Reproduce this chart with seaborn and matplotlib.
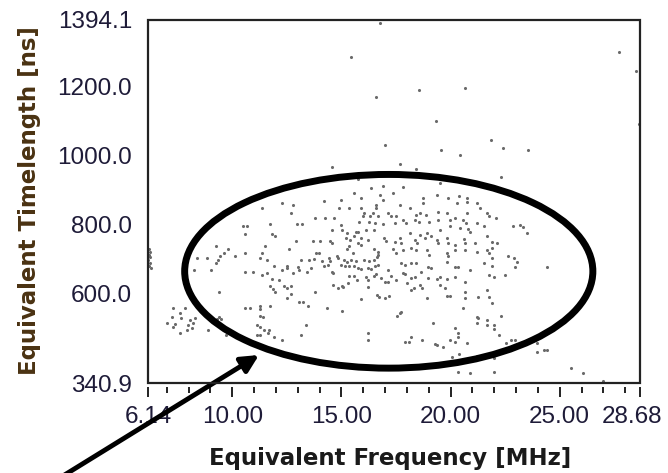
import pandas as pd
import seaborn as sns
import matplotlib.pyplot as plt
from matplotlib.patches import Ellipse, Rectangle
from matplotlib.transforms import ScaledTranslation

# ----------------------------
# AXES / TICKS
# ----------------------------
x_min, x_max = 6.14, 28.68
y_min, y_max = 340.9, 1394.1
x_major = [6.14, 10, 15, 20, 25, 28.68]
x_major_labels = ["6.14", "10.00", "15.00", "20.00", "25.00", "28.68"]
x_minor = list(range(7, 29))
y_ticks = [340.9, 600, 800, 1000, 1200, 1394.1]
y_tick_labels = ["340.9", "600.0", "800.0", "1000.0", "1200.0", "1394.1"]

# ----------------------------
# DATA (freq MHz, timelength ns)
# ----------------------------
edge_pts = [(6.20, 731), (6.18, 712), (6.25, 706), (6.16, 698), (6.22, 688),
            (6.19, 679), (6.28, 676), (6.24, 720)]

low_left_pts = [(7.27, 558), (7.84, 558), (7.61, 543), (7.22, 533), (7.65, 529),
                (8.07, 524), (8.30, 529), (7.02, 514), (7.38, 512), (7.99, 509),
                (8.22, 514), (7.30, 504), (7.61, 487), (7.91, 495), (8.17, 500),
                (9.37, 533), (9.30, 527), (9.48, 527), (9.30, 514), (8.91, 495),
                (9.53, 504), (9.73, 480)]

left_pts = [(8.37, 703), (8.83, 703), (8.27, 669), (9.03, 669), (9.26, 737), (9.42, 709),
            (9.60, 717), (9.79, 730), (9.33, 698), (9.26, 688), (10.14, 709), (10.60, 717),
            (9.37, 606), (10.57, 662), (10.95, 662), (11.37, 850), (10.49, 795), (10.68, 795),
            (10.60, 772), (11.71, 801), (11.83, 772), (11.94, 766), (12.26, 864), (12.80, 857),
            (12.71, 835), (11.48, 739), (11.37, 717), (11.26, 703), (11.57, 698), (11.37, 654),
            (11.60, 659), (11.91, 681), (12.29, 669), (12.49, 681), (12.49, 674), (12.60, 730),
            (12.90, 753), (12.95, 801), (13.21, 801), (11.83, 642), (12.14, 640), (11.75, 621),
            (11.88, 613), (11.95, 606), (12.37, 621), (12.49, 616), (12.67, 621), (12.49, 587),
            (12.71, 599), (12.78, 661), (13.06, 669), (13.03, 677), (13.14, 698), (13.41, 664),
            (13.52, 698), (13.63, 674), (13.70, 753), (13.79, 821), (14.03, 753), (14.21, 870),
            (14.49, 753), (14.56, 748), (14.56, 785), (14.26, 821), (14.67, 821), (13.83, 717),
            (13.98, 717), (13.75, 701), (14.09, 696), (14.21, 679), (14.37, 683), (14.56, 664),
            (14.63, 659), (14.44, 703), (14.49, 696), (14.79, 709), (14.86, 703), (13.79, 606),
            (14.60, 625), (14.83, 616), (15.03, 621), (14.36, 558), (15.03, 550), (13.06, 577),
            (13.24, 577), (13.47, 563), (10.57, 558), (10.80, 558), (11.26, 563), (11.26, 555),
            (11.72, 563), (11.29, 536), (11.42, 533), (11.14, 509), (11.29, 503), (11.45, 495),
            (11.14, 480), (11.29, 480), (11.68, 495), (11.63, 485), (11.91, 475), (12.26, 466),
            (13.37, 509), (13.14, 480), (16.21, 487), (16.24, 466), (15.90, 585), (16.64, 596),
            (16.71, 589), (17.00, 587), (17.20, 593), (17.56, 536)]

center_pts = [(15.78, 932), (16.36, 906), (16.90, 913), (17.36, 891), (15.56, 891), (15.90, 877),
              (16.79, 886), (16.90, 872), (14.98, 872), (14.90, 850), (15.33, 850), (15.90, 850),
              (16.59, 857), (16.59, 850), (16.05, 833), (15.98, 824), (16.33, 826), (16.44, 833),
              (16.67, 826), (17.13, 833), (17.28, 824), (17.51, 824), (15.82, 809), (16.28, 809),
              (16.54, 806), (16.90, 801), (17.44, 804), (14.98, 799), (15.02, 785), (15.25, 775),
              (15.67, 780), (15.78, 780), (16.13, 785), (16.48, 785), (15.21, 761), (15.41, 756),
              (15.59, 766), (15.90, 761), (16.21, 756), (16.97, 761), (17.05, 753), (17.44, 751),
              (15.75, 746), (15.90, 741), (15.33, 737), (15.25, 730), (15.52, 717), (16.51, 730),
              (16.67, 722), (17.36, 730), (17.51, 719), (15.10, 698), (15.25, 693), (15.44, 698),
              (15.67, 696), (16.05, 698), (16.28, 696), (16.51, 698), (16.67, 712), (16.64, 706),
              (14.98, 683), (15.16, 679), (15.36, 679), (15.59, 679), (15.75, 676), (15.90, 673),
              (16.21, 674), (16.36, 671), (16.56, 679), (16.67, 683), (17.13, 669), (15.36, 650),
              (15.59, 651), (15.71, 640), (16.13, 647), (16.24, 640), (16.48, 650), (16.59, 657),
              (16.82, 645), (17.00, 635), (17.13, 635), (17.28, 650), (17.51, 640), (16.24, 619),
              (15.29, 630), (15.06, 619)]

right_pts = [(17.83, 911), (19.52, 920), (18.75, 877), (18.75, 862), (19.36, 886), (19.90, 877),
             (20.41, 883), (20.75, 877), (20.75, 867), (20.29, 862), (21.21, 862), (21.36, 848),
             (17.68, 857), (18.14, 848), (18.44, 828), (18.60, 833), (18.87, 828), (19.44, 838),
             (19.82, 833), (20.21, 819), (20.75, 833), (21.67, 833), (21.75, 824), (22.10, 819),
             (17.80, 814), (17.95, 804), (18.37, 814), (18.57, 809), (19.00, 809), (19.44, 814),
             (19.98, 814), (20.59, 814), (20.72, 804), (21.21, 804), (21.52, 795), (20.90, 780),
             (20.82, 787), (20.44, 790), (19.98, 795), (19.52, 785), (18.94, 775), (19.09, 767),
             (18.60, 770), (18.14, 775), (17.68, 761), (17.75, 746), (18.37, 756), (18.47, 748),
             (18.83, 761), (19.36, 756), (19.44, 746), (19.82, 761), (19.90, 746), (20.21, 741),
             (20.62, 758), (20.67, 748), (21.13, 746), (21.67, 766), (21.90, 751), (22.13, 748),
             (22.87, 795), (23.20, 799), (23.33, 793), (23.51, 775), (17.83, 727), (18.21, 732),
             (18.44, 727), (18.90, 727), (19.03, 712), (19.82, 719), (19.90, 708), (20.21, 727),
             (20.67, 727), (21.21, 722), (21.67, 727), (21.75, 717), (21.90, 732), (22.62, 710),
             (22.93, 703), (23.05, 693), (17.75, 688), (17.91, 683), (18.21, 690), (18.41, 688),
             (18.98, 678), (19.09, 674), (19.86, 693), (20.21, 677), (20.36, 677), (20.87, 669),
             (21.52, 690), (21.90, 705), (21.90, 680), (22.97, 677), (24.43, 677), (17.80, 661),
             (17.91, 657), (18.21, 645), (18.37, 649), (18.64, 664), (18.98, 645), (19.36, 644),
             (19.52, 649), (19.86, 642), (20.21, 649), (20.67, 635), (21.75, 654), (21.98, 649),
             (22.51, 654), (18.00, 630), (18.21, 611), (18.32, 616), (18.60, 625), (18.67, 616),
             (18.90, 587), (19.52, 625), (19.75, 616), (19.82, 592), (19.98, 593), (20.67, 606),
             (20.67, 587), (21.28, 591), (21.67, 611), (21.75, 591), (21.90, 572), (20.56, 558),
             (17.68, 543), (17.75, 548), (19.21, 514), (21.21, 533), (21.28, 529), (21.21, 514),
             (21.67, 524), (21.67, 509), (21.98, 509), (22.01, 497), (22.32, 535), (20.21, 500),
             (20.32, 487), (20.36, 475), (20.21, 461), (19.98, 466), (20.75, 458), (22.21, 480),
             (18.21, 474), (17.91, 459), (18.11, 459), (18.67, 466), (19.29, 453), (19.36, 451),
             (19.67, 446), (20.06, 417), (20.41, 425), (21.21, 419), (22.01, 413), (22.56, 458),
             (22.78, 466), (22.97, 466), (23.97, 456), (23.97, 432), (24.28, 437), (24.43, 437),
             (20.32, 374), (20.90, 369), (21.98, 374), (25.51, 383), (26.08, 369), (26.97, 347)]

upper_pts = [(16.78, 1386), (15.45, 1288), (18.55, 1191), (16.57, 1170), (20.64, 1198),
             (19.32, 1100), (27.74, 1302), (28.50, 1247), (28.63, 1092), (17.00, 1031),
             (19.55, 1017), (20.44, 1003), (21.87, 1045), (22.41, 1024), (23.54, 1017),
             (17.67, 975), (18.44, 961), (22.31, 940), (14.59, 968)]

# highlighted region (ellipse)
ell_center = (17.17, 665)
ell_width, ell_height = 18.70, 562

df = pd.DataFrame(edge_pts + low_left_pts + left_pts + center_pts + right_pts + upper_pts,
                  columns=["freq", "time"])

# ----------------------------
# PLOT
# ----------------------------
sns.set_theme(style="white")
tick_font = "Liberation Sans"

W, H = 668, 473
fig = plt.figure(figsize=(W / 100, H / 100), dpi=100)
ax = fig.add_axes([148 / W, 1 - 383 / H, 492 / W, 363 / H])

sns.scatterplot(data=df, x="freq", y="time", ax=ax, s=5, color="#6a6a6a",
                linewidth=0, marker="o", zorder=3)

ax.set_xlim(x_min, x_max)
ax.set_ylim(y_min, y_max)
ax.set_xticks(x_major)
ax.set_xticklabels(x_major_labels)
ax.set_xticks(x_minor, minor=True)
ax.set_yticks(y_ticks)
ax.set_yticklabels(y_tick_labels)
ax.set_xlabel("")
ax.set_ylabel("")

for sp in ax.spines.values():
    sp.set_visible(False)
ax.spines["bottom"].set_position(("outward", 3))
ax.add_patch(Rectangle((0, 0), 1, 1, transform=ax.transAxes, fill=False,
                       lw=1.6, ec="#222222", clip_on=False, zorder=5))

tick_color = "#1e1b38"
ax.tick_params(axis="x", which="major", bottom=True, direction="out", length=7.5,
               width=1.4, color="#222222", pad=6, labelsize=17.5, labelcolor=tick_color)
ax.tick_params(axis="x", which="minor", bottom=True, direction="out", length=4.5,
               width=1.4, color="#222222")
ax.tick_params(axis="y", left=False, length=0, pad=11.5, labelsize=17.5, labelcolor=tick_color)
for lab in ax.get_xticklabels() + ax.get_yticklabels():
    lab.set_fontfamily(tick_font)

# last x label sits a little left of its tick in the reference
last = ax.get_xticklabels()[-1]
last.set_transform(last.get_transform() + ScaledTranslation(-8 / 100, 0, fig.dpi_scale_trans))

ax.add_patch(Ellipse(ell_center, ell_width, ell_height, fill=False, lw=5,
                     ec="black", zorder=6))

ax.annotate("", xy=(259 / W, 1 - 355 / H), xycoords="figure fraction",
            xytext=(58 / W, 1 - 479 / H), textcoords="figure fraction",
            arrowprops=dict(arrowstyle="-|>", lw=3.5, color="black", mutation_scale=26,
                            shrinkA=0, shrinkB=0),
            annotation_clip=False)

fig.text(390 / W, 1 - 458 / H, "Equivalent Frequency [MHz]", ha="center", va="center",
         fontsize=16.5, fontweight="bold", family="DejaVu Sans", color="#1a1a1a")
fig.text(30 / W, 1 - 201 / H, "Equivalent Timelength [ns]", ha="center", va="center",
         rotation=90, fontsize=16.5, fontweight="bold", family="DejaVu Sans", color="#4a3212")

fig.savefig("out.png", dpi=100)
